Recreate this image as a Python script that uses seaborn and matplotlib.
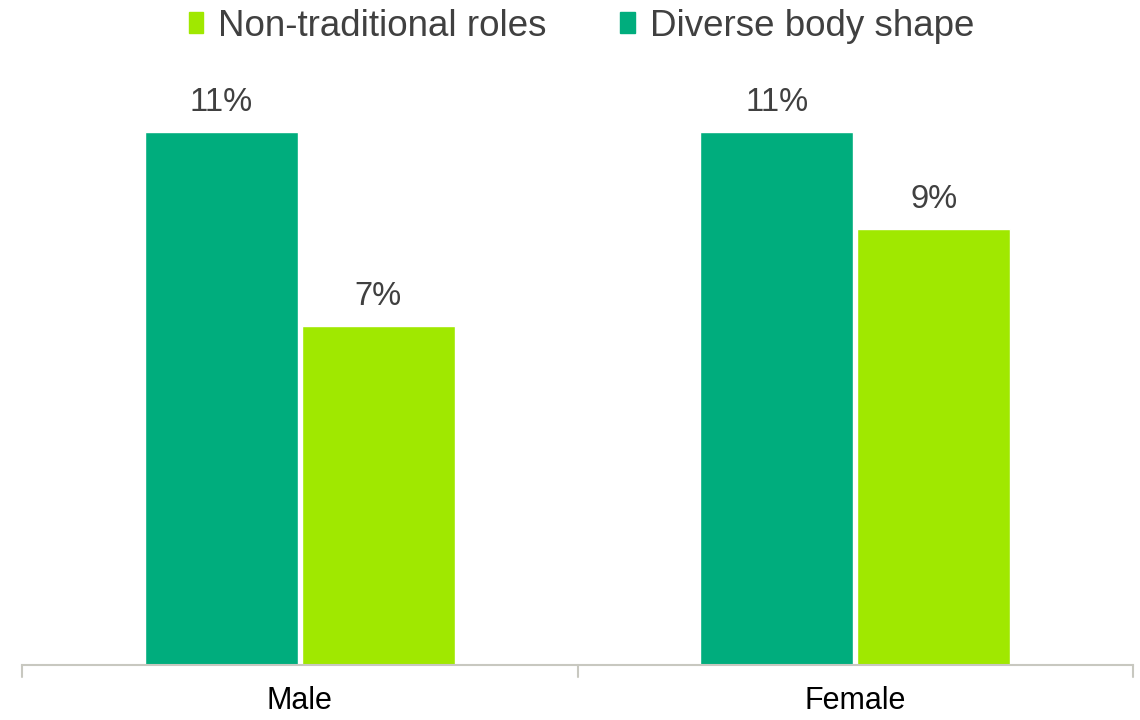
import pandas as pd
import matplotlib
matplotlib.use('Agg')
import matplotlib.pyplot as plt
import seaborn as sns
from matplotlib.patches import Patch

# ---- data ----
categories = ['Male', 'Female']
series_names = ['Diverse body shape', 'Non-traditional roles']
diverse_vals = [11, 11]
nontrad_vals = [7, 9]
colors = {'Diverse body shape': '#00AD7D', 'Non-traditional roles': '#A0E800'}

df = pd.DataFrame({
    'Gender': categories * 2,
    'Series': [series_names[0]] * 2 + [series_names[1]] * 2,
    'Value': diverse_vals + nontrad_vals,
})

sns.set_theme(style='white')
plt.rcParams['font.family'] = ['Liberation Sans', 'DejaVu Sans']

fig = plt.figure(figsize=(11.4, 7.2), dpi=100)
ax = fig.add_axes([22 / 1140, 1 - 665 / 720, (1133 - 22) / 1140, (665 - 60) / 720])

sns.barplot(data=df, x='Gender', y='Value', hue='Series', order=categories,
            hue_order=series_names, palette=colors, width=0.565, gap=0.026,
            saturation=1, legend=False, ax=ax)

ax.set_xlim(-0.5, 1.5)
ax.set_ylim(0, 11 * 605 / 533)

# value labels
for cont in ax.containers:
    ax.bar_label(cont, labels=[f'{v:.0f}%' for v in cont.datavalues],
                 padding=10, fontsize=23.5, color='#404040')

# axes styling
for s in ['top', 'right', 'left']:
    ax.spines[s].set_visible(False)
ax.spines['bottom'].set_color('#C8C8C0')
ax.spines['bottom'].set_linewidth(1.5)
ax.set_yticks([])
ax.set_xlabel('')
ax.set_ylabel('')
ax.set_xticks([0, 1])
ax.set_xticklabels(categories, fontsize=22, color='#000000')
ax.tick_params(axis='x', length=0, pad=15)
# category separators as tick marks
for xpos in [-0.5, 0.5, 1.5]:
    ax.plot([xpos, xpos], [0, -0.02], transform=ax.get_xaxis_transform(),
            color='#C8C8C0', lw=1.5, clip_on=False)

handles = [Patch(color=colors['Non-traditional roles']),
           Patch(color=colors['Diverse body shape'])]
fig.legend(handles, ['Non-traditional roles', 'Diverse body shape'],
           loc='center', bbox_to_anchor=(0.51, 1 - 26 / 720), ncol=2,
           frameon=False, fontsize=26.5, labelcolor='#404040',
           handlelength=0.4, handleheight=0.5, handletextpad=0.4,
           columnspacing=2.0)

fig.savefig('out.png', dpi=100)
